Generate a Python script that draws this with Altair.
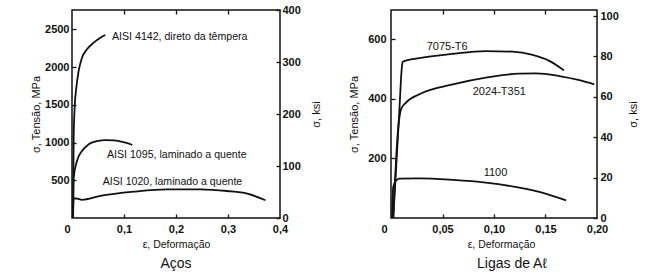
import altair as alt
import pandas as pd

FONT = "Liberation Sans"
INK = "#111111"

# ---------------- Left panel: Aços (steels) ----------------
steel_names = ["AISI 4142", "AISI 1095", "AISI 1020"]
s4142_strain = [0.002, 0.0032, 0.0051, 0.0083, 0.0128, 0.0192, 0.0288, 0.0417, 0.0545, 0.064]
s4142_mpa = [0, 1065, 1463, 1728, 1950, 2126, 2237, 2325, 2391, 2427]
s1095_strain = [0.002, 0.0032, 0.0096, 0.0192, 0.032, 0.048, 0.065, 0.08, 0.095, 0.105, 0.116]
s1095_mpa = [0, 535, 756, 889, 977, 1018, 1032, 1030, 1012, 995, 968]
s1020_strain = [0.002, 0.003, 0.01, 0.019, 0.054, 0.119, 0.183, 0.247, 0.298, 0.337, 0.372]
s1020_mpa = [0, 262, 258, 240, 292, 349, 380, 380, 358, 323, 235]

steel_labels = ["AISI 4142, direto da têmpera", "AISI 1095, laminado a quente", "AISI 1020, laminado a quente"]
steel_label_strain = [0.077, 0.0673, 0.059]
steel_label_mpa = [2405, 831, 477]

steel_x_domain = [0, 0.4]
steel_mpa_domain = [0, 2758]
steel_ksi_domain = [0, 400]
steel_x_ticks = [0, 0.1, 0.2, 0.3, 0.4]
steel_x_inner = [0.1, 0.2, 0.3]
steel_mpa_ticks = [500, 1000, 1500, 2000, 2500]
steel_ksi_ticks = [0, 100, 200, 300, 400]

# ---------------- Right panel: Ligas de Aℓ ----------------
al_names = ["7075-T6", "2024-T351", "1100"]
a7075_strain = [0.0022, 0.0081, 0.0105, 0.0113, 0.0275, 0.06, 0.092, 0.118, 0.1375, 0.1537, 0.168]
a7075_mpa = [0, 360, 505, 525, 537, 552, 561, 559, 548, 528, 496]
a2024_strain = [0.0022, 0.0065, 0.0097, 0.0146, 0.0275, 0.06, 0.092, 0.1246, 0.141, 0.1634, 0.183, 0.1974]
a2024_mpa = [0, 281, 365, 388, 416, 449, 472, 485, 486, 477, 463, 449]
a1100_strain = [0.001, 0.0022, 0.0045, 0.0081, 0.0275, 0.06, 0.092, 0.1246, 0.15, 0.17]
a1100_mpa = [0, 105, 124, 132, 133, 128, 119, 102, 82, 59]

al_labels = ["7075-T6", "2024-T351", "1100"]
al_label_strain = [0.0347, 0.0793, 0.09]
al_label_mpa = [575, 425, 152]

al_x_domain = [0, 0.2]
al_mpa_domain = [0, 699]
al_ksi_domain = [0, 103]
al_x_ticks = [0, 0.05, 0.10, 0.15, 0.20]
al_x_inner = [0.05, 0.10, 0.15]
al_mpa_ticks = [200, 400, 600]
al_ksi_ticks = [0, 20, 40, 60, 80, 100]


def lines_frame(names, strains, stresses):
    rows = []
    for n, xs, ys in zip(names, strains, stresses):
        for i, (a, b) in enumerate(zip(xs, ys)):
            rows.append({"series": n, "i": i, "strain": a, "mpa": b})
    return pd.DataFrame(rows)


def panel(line_df, label_df, xdom, ydom, kdom, xticks, xinner, yticks, kticks,
          digits, zero_off, caption, cap_dx, width, height, label_size,
          ylab_pad, ytitle_pad, klab_pad, ktitle_pad, xtitle_x):
    xs = alt.Scale(domain=xdom, nice=False, zero=False)
    ys = alt.Scale(domain=ydom, nice=False, zero=False)
    ks = alt.Scale(domain=kdom, nice=False, zero=False)
    lab_expr = ("datum.value == 0 ? '0' : replace(format(datum.value, '.%df'), '.', ',')" % digits)

    common = dict(grid=False, domain=False, labelFont=FONT, labelFontSize=11,
                  labelFontWeight="bold", labelColor=INK, titleFont=FONT,
                  titleColor=INK, titleFontWeight="normal")

    xaxis_kwargs = dict(common)
    xaxis_kwargs.update(dict(
        values=xticks, labelExpr=lab_expr, title="ε, Deformação", titleFontSize=10.5,
        tickSize=0, labelFlush=False, labelPadding=5, titlePadding=5,
        labelOffset={"condition": {"test": "datum.value == 0", "value": zero_off}, "value": 0},
    ))
    if xtitle_x is not None:
        xaxis_kwargs["titleX"] = xtitle_x

    lines = alt.Chart(line_df).mark_line(
        color=INK, strokeWidth=1.8, interpolate="monotone"
    ).encode(
        x=alt.X("strain:Q", scale=xs, axis=alt.Axis(orient="bottom", **xaxis_kwargs)),
        y=alt.Y("mpa:Q", scale=ys, axis=alt.Axis(
            orient="left", values=yticks, format="d", title="σ, Tensão, MPa",
            titleFontSize=11, tickSize=0, labelPadding=ylab_pad,
            titlePadding=ytitle_pad, **common)),
        detail="series:N",
        order="i:Q",
    )

    texts = alt.Chart(label_df).mark_text(
        align="left", baseline="middle", font=FONT, fontSize=label_size, color=INK
    ).encode(
        x=alt.X("strain:Q", scale=xs, axis=None),
        y=alt.Y("mpa:Q", scale=ys, axis=None),
        text="label:N",
    )

    ksi_df = pd.DataFrame({"ksi": kticks})
    ksi = alt.Chart(ksi_df).mark_point(opacity=0).encode(
        y=alt.Y("ksi:Q", scale=ks, axis=alt.Axis(
            orient="right", values=kticks, format="d", title="σ, ksi", titleFontSize=11,
            titleAngle=270, titleBaseline="top",
            tickSize=0, labelPadding=klab_pad, titlePadding=ktitle_pad, **common)),
    )

    frame_df = pd.DataFrame({"strain": xdom, "mpa": ydom, "ksi": kdom})
    tick_common = dict(grid=False, domain=False, labels=False, title=None,
                       tickSize=4, tickWidth=1.3, tickColor=INK, offset=-4)
    ticks_a = alt.Chart(frame_df).mark_point(opacity=0).encode(
        x=alt.X("strain:Q", scale=xs, axis=alt.Axis(orient="bottom", values=xinner, **tick_common)),
        y=alt.Y("mpa:Q", scale=ys, axis=alt.Axis(orient="left", values=yticks, **tick_common)),
    )
    ticks_b = alt.Chart(frame_df).mark_point(opacity=0).encode(
        x=alt.X("strain:Q", scale=xs, axis=alt.Axis(orient="top", values=xinner, **tick_common)),
        y=alt.Y("ksi:Q", scale=ks, axis=alt.Axis(orient="right", values=kticks, **tick_common)),
    )

    return alt.layer(lines, texts, ksi, ticks_a, ticks_b).resolve_scale(
        x="independent", y="independent"
    ).resolve_axis(x="independent", y="independent").properties(
        width=width, height=height,
        title=alt.Title(caption, orient="bottom", anchor="middle", frame="group",
                        font=FONT, fontSize=14, fontWeight="normal", color=INK,
                        offset=7, dx=cap_dx),
    )


steel_lines = lines_frame(steel_names, [s4142_strain, s1095_strain, s1020_strain],
                          [s4142_mpa, s1095_mpa, s1020_mpa])
steel_text = pd.DataFrame({"label": steel_labels, "strain": steel_label_strain, "mpa": steel_label_mpa})
al_lines = lines_frame(al_names, [a7075_strain, a2024_strain, a1100_strain],
                       [a7075_mpa, a2024_mpa, a1100_mpa])
al_text = pd.DataFrame({"label": al_labels, "strain": al_label_strain, "mpa": al_label_mpa})

left = panel(steel_lines, steel_text, steel_x_domain, steel_mpa_domain, steel_ksi_domain,
             steel_x_ticks, steel_x_inner, steel_mpa_ticks, steel_ksi_ticks,
             1, -5, "Aços", 0, 208, 208, 10.6, 3, 3, 2, 10, None)
right = panel(al_lines, al_text, al_x_domain, al_mpa_domain, al_ksi_domain,
              al_x_ticks, al_x_inner, al_mpa_ticks, al_ksi_ticks,
              2, -7, "Ligas de A\u2113", 18, 206, 208, 11, 5, 8, 3, 9, 110)

chart = alt.hconcat(left, right, spacing=24).properties(
    padding={"left": 29, "top": 3, "right": 0, "bottom": 0},
    background="white",
).configure_view(stroke=INK, strokeWidth=1.5)

chart.save("out.html", embed_options={"renderer": "svg", "actions": False})
